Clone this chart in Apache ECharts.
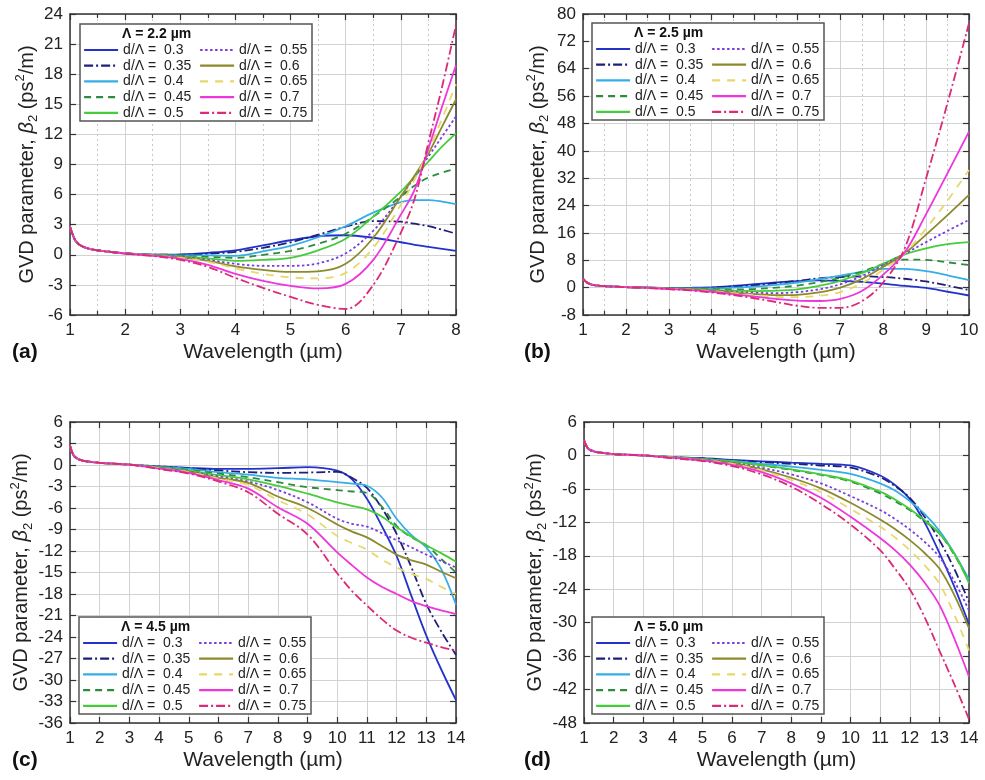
<!DOCTYPE html>
<html><head><meta charset="utf-8">
<script src="https://cdn.jsdelivr.net/npm/echarts@6/dist/echarts.min.js"></script>
<style>html,body{margin:0;padding:0;background:#fff}#c{width:985px;height:780px}</style>
</head><body><div id="c"></div>
<script>
// ---------- data: panel (a), Λ = 2.2 µm ----------
const lamA = [1, 1.1, 1.2, 1.35, 1.5, 2, 2.5, 3, 3.5, 4, 4.5, 5, 5.5, 6, 6.5, 7, 7.25, 7.5, 7.75, 8];
const A030 = [2.8,1.4,0.9,0.6,0.45,0.15,0.02, 0.05,0.2,0.45,0.95,1.45,1.85,1.95,1.7,1.25,1.0,0.8,0.6,0.4];
const A035 = [2.8,1.4,0.9,0.6,0.45,0.15,0.02, 0.0,0.1,0.3,0.7,1.25,2.0,2.8,3.35,3.3,3.1,2.85,2.5,2.1];
const A040 = [2.8,1.4,0.9,0.6,0.45,0.15,0.02, -0.05,-0.05,-0.1,0.35,0.9,1.75,2.85,4.2,5.25,5.45,5.45,5.3,5.05];
const A045 = [2.8,1.4,0.9,0.6,0.45,0.15,0.0, -0.1,-0.2,-0.3,0.0,0.4,1.1,2.1,3.8,5.8,6.9,7.7,8.2,8.6];
const A050 = [2.8,1.4,0.9,0.6,0.45,0.15,-0.02, -0.15,-0.35,-0.6,-0.5,-0.3,0.45,1.6,3.8,6.3,7.8,9.3,10.8,12.1];
const A055 = [2.8,1.4,0.9,0.6,0.45,0.15,-0.03, -0.2,-0.5,-0.9,-1.1,-1.1,-0.85,0.15,2.4,5.8,7.8,9.8,11.8,13.8];
const A060 = [2.8,1.4,0.9,0.6,0.45,0.15,-0.05, -0.25,-0.6,-1.15,-1.5,-1.7,-1.65,-0.9,1.7,5.8,7.9,10.1,12.8,15.5];
const A065 = [2.8,1.4,0.9,0.6,0.45,0.14,-0.08, -0.3,-0.7,-1.35,-1.9,-2.25,-2.35,-1.8,0.7,5.0,7.5,10.4,13.6,17.0];
const A070 = [2.8,1.4,0.9,0.6,0.45,0.13,-0.1, -0.4,-1.0,-1.9,-2.6,-3.1,-3.35,-2.9,-0.5,4.0,6.5,10.6,14.8,18.9];
const A075 = [2.8,1.4,0.9,0.6,0.45,0.12,-0.12, -0.5,-1.2,-2.3,-3.3,-4.2,-5.0,-5.4,-3.0,2.2,5.6,11.2,16.8,22.9];

// ---------- data: panel (b), Λ = 2.5 µm ----------
const lamB = [1, 1.1, 1.2, 1.35, 1.5, 2, 2.5, 3, 3.5, 4, 4.5, 5, 5.5, 6, 6.5, 7, 7.5, 8, 8.5, 9, 9.5, 10];
const B030 = [2.6,1.4,0.9,0.6,0.45,0.15,0.0, -0.1,-0.05,0.1,0.5,1.0,1.5,1.9,2.1,2.0,1.7,1.2,0.5,-0.1,-1.2,-2.3];
const B035 = [2.6,1.4,0.9,0.6,0.45,0.15,0.0, -0.1,-0.1,0.0,0.3,0.7,1.3,2.0,2.7,3.1,3.3,3.1,2.6,1.8,0.6,-0.7];
const B040 = [2.6,1.4,0.9,0.6,0.45,0.15,0.0, -0.15,-0.2,-0.2,0.0,0.3,0.8,1.5,2.5,3.5,4.6,5.5,5.5,4.8,3.6,2.2];
const B045 = [2.6,1.4,0.9,0.6,0.45,0.15,0.0, -0.2,-0.3,-0.45,-0.5,-0.4,0.0,0.6,1.6,2.9,4.7,6.8,8.2,8.1,7.4,6.6];
const B050 = [2.6,1.4,0.9,0.6,0.45,0.15,0.0, -0.25,-0.4,-0.65,-0.9,-1.0,-0.9,-0.5,0.5,2.0,4.2,7.0,9.7,11.5,12.7,13.3];
const B055 = [2.6,1.4,0.9,0.6,0.45,0.15,0.0, -0.3,-0.5,-0.8,-1.2,-1.5,-1.6,-1.3,-0.5,1.0,3.4,6.6,9.9,13.3,16.6,19.8];
const B060 = [2.6,1.4,0.9,0.6,0.45,0.15,0.0, -0.3,-0.55,-0.9,-1.4,-1.9,-2.2,-2.1,-1.4,0.0,2.5,6.1,10.0,15.5,21.2,27.1];
const B065 = [2.6,1.4,0.9,0.6,0.45,0.15,-0.05, -0.35,-0.6,-1.0,-1.6,-2.2,-2.7,-2.8,-2.4,-1.3,1.3,5.2,10.0,17.3,25.5,34.4];
const B070 = [2.6,1.4,0.9,0.6,0.45,0.15,-0.05, -0.4,-0.7,-1.2,-1.9,-2.6,-3.3,-3.8,-3.9,-3.3,-1.0,3.8,10.3,21.5,33.5,45.6];
const B075 = [2.6,1.4,0.9,0.6,0.45,0.15,-0.1, -0.45,-0.8,-1.4,-2.2,-3.1,-4.2,-5.3,-5.9,-5.9,-4.0,1.5,11.5,32.0,54.0,77.3];

// ---------- data: panel (c), Λ = 4.5 µm ----------
const lamC = [1, 1.1, 1.2, 1.35, 1.5, 2, 3, 4, 5, 6, 7, 8, 9, 10, 10.5, 11, 11.5, 12, 12.5, 13, 13.5, 14];
const C030 = [2.7,1.5,1.0,0.7,0.55,0.3,0.05, -0.2,-0.4,-0.55,-0.55,-0.45,-0.3,-0.8,-2.0,-4.7,-8.5,-12.7,-18.3,-23.8,-28.5,-32.8];
const C035 = [2.7,1.5,1.0,0.7,0.55,0.3,0.05, -0.2,-0.45,-0.75,-1.0,-1.1,-1.05,-0.95,-1.8,-3.2,-6.0,-9.6,-14.3,-19.4,-23.2,-26.5];
const C040 = [2.7,1.5,1.0,0.7,0.55,0.3,0.05, -0.25,-0.55,-1.0,-1.35,-1.8,-2.0,-2.4,-2.6,-2.9,-4.5,-7.5,-9.8,-11.5,-14.5,-19.5];
const C045 = [2.7,1.5,1.0,0.7,0.55,0.3,0.05, -0.3,-0.7,-1.2,-1.7,-2.4,-3.1,-3.5,-3.7,-3.9,-5.8,-8.5,-10.1,-11.2,-13.1,-15.0];
const C050 = [2.7,1.5,1.0,0.7,0.55,0.3,0.05, -0.35,-0.8,-1.4,-2.0,-2.9,-4.0,-5.2,-5.7,-6.2,-7.2,-8.7,-10.0,-11.2,-12.3,-13.5];
const C055 = [2.7,1.5,1.0,0.7,0.55,0.3,0.05, -0.4,-0.9,-1.6,-2.3,-3.5,-5.2,-7.5,-8.2,-8.6,-9.5,-10.5,-11.5,-12.5,-13.4,-14.3];
const C060 = [2.7,1.5,1.0,0.7,0.55,0.3,0.05, -0.4,-0.95,-1.8,-2.5,-4.4,-6.0,-8.3,-9.3,-10.1,-11.3,-12.5,-13.3,-13.9,-14.9,-15.8];
const C065 = [2.7,1.5,1.0,0.7,0.55,0.3,0.05, -0.45,-1.0,-1.9,-2.8,-4.9,-6.9,-9.9,-10.9,-11.8,-13.2,-14.3,-15.2,-15.9,-17.0,-18.0];
const C070 = [2.7,1.5,1.0,0.7,0.55,0.3,0.05, -0.5,-1.1,-2.1,-3.3,-5.9,-8.2,-12.2,-14.0,-15.7,-17.0,-18.0,-19.0,-19.7,-20.3,-20.8];
const C075 = [2.7,1.5,1.0,0.7,0.55,0.3,0.05, -0.55,-1.2,-2.3,-3.8,-6.8,-9.7,-15.1,-17.6,-19.6,-21.5,-23.1,-24.1,-24.8,-25.4,-25.9];

// ---------- data: panel (d), Λ = 5.0 µm ----------
const lamD = [1, 1.1, 1.2, 1.35, 1.5, 2, 3, 4, 5, 6, 7, 8, 9, 10, 11, 11.5, 12, 12.5, 13, 13.5, 14];
const D030 = [2.7,1.5,1.0,0.7,0.55,0.25,0.0, -0.3,-0.5,-0.8,-1.05,-1.3,-1.5,-1.8,-3.6,-5.3,-7.8,-12.0,-17.5,-23.5,-30.3];
const D035 = [2.7,1.5,1.0,0.7,0.55,0.25,0.0, -0.3,-0.55,-0.9,-1.2,-1.5,-1.8,-2.2,-3.9,-5.5,-7.6,-11.0,-15.2,-20.3,-26.3];
const D040 = [2.7,1.5,1.0,0.7,0.55,0.25,0.0, -0.35,-0.6,-1.0,-1.5,-2.0,-2.6,-3.3,-5.0,-6.3,-8.2,-10.5,-13.5,-17.5,-22.3];
const D045 = [2.7,1.5,1.0,0.7,0.55,0.25,0.0, -0.35,-0.65,-1.1,-1.8,-2.6,-3.5,-4.7,-6.8,-8.2,-9.8,-11.8,-14.0,-17.8,-22.6];
const D050 = [2.7,1.5,1.0,0.7,0.55,0.25,0.0, -0.35,-0.65,-1.1,-1.75,-2.5,-3.4,-4.5,-6.5,-7.9,-9.6,-11.6,-14.0,-17.6,-22.9];
const D055 = [2.7,1.5,1.0,0.7,0.55,0.25,0.0, -0.4,-0.75,-1.3,-2.2,-3.4,-5.0,-7.3,-9.8,-11.4,-13.3,-15.5,-18.2,-22.5,-27.8];
const D060 = [2.7,1.5,1.0,0.7,0.55,0.25,0.0, -0.4,-0.8,-1.4,-2.5,-4.0,-5.9,-8.5,-11.5,-13.2,-15.2,-17.5,-20.3,-25.0,-31.0];
const D065 = [2.7,1.5,1.0,0.7,0.55,0.25,0.0, -0.4,-0.85,-1.5,-2.7,-4.4,-6.6,-9.6,-12.8,-14.7,-17.0,-19.7,-23.0,-28.5,-35.0];
const D070 = [2.7,1.5,1.0,0.7,0.55,0.25,0.0, -0.45,-0.9,-1.7,-3.0,-5.0,-7.6,-11.0,-14.8,-17.0,-19.6,-22.8,-26.8,-32.8,-39.7];
const D075 = [2.7,1.5,1.0,0.7,0.55,0.25,0.0, -0.5,-1.0,-1.9,-3.4,-5.6,-8.7,-12.4,-17.0,-20.3,-24.0,-29.0,-35.0,-41.0,-47.3];

// ---------- labels ----------
const seriesNames = ['d/Λ =  0.3','d/Λ =  0.35','d/Λ =  0.4','d/Λ =  0.45','d/Λ =  0.5',
                     'd/Λ =  0.55','d/Λ =  0.6','d/Λ =  0.65','d/Λ =  0.7','d/Λ =  0.75'];
const lambdaTitles = ['Λ = 2.2 µm','Λ = 2.5 µm','Λ = 4.5 µm','Λ = 5.0 µm'];
const panelLabels = ['(a)','(b)','(c)','(d)'];
const xTitle = 'Wavelength (µm)';

// ---------- styles ----------
const colors = ['#2233cc','#1f1f78','#35aee6','#2e8b3e','#44cc3a','#7a3ee0','#8c8a2c','#e6d86a','#ee36dc','#dd2a78'];
const dashes = ['solid',[9,3,2,3],'solid',[7,5],'solid',[2.5,2.5],'solid',[8,7],'solid',[9,3,2,3]];
const FONT = 'Liberation Sans, Arial, Helvetica, sans-serif';

const panels = [
  {x: lamA, ys: [A030,A035,A040,A045,A050,A055,A060,A065,A070,A075], xmin:1, xmax:8, ymin:-6, ymax:24, yint:3, minor:true,
   grid:{left:70, top:14, width:386, height:301}, box:[80,24], ygap:28, label:[12,352]},
  {x: lamB, ys: [B030,B035,B040,B045,B050,B055,B060,B065,B070,B075], xmin:1, xmax:10, ymin:-8, ymax:80, yint:8, minor:true,
   grid:{left:583, top:14, width:386, height:301}, box:[592,23], ygap:32, label:[524,352]},
  {x: lamC, ys: [C030,C035,C040,C045,C050,C055,C060,C065,C070,C075], xmin:1, xmax:14, ymin:-36, ymax:6, yint:3, minor:false,
   grid:{left:70, top:422, width:386, height:301}, box:[79,617], ygap:27, label:[12,760]},
  {x: lamD, ys: [D030,D035,D040,D045,D050,D055,D060,D065,D070,D075], xmin:1, xmax:14, ymin:-48, ymax:6, yint:6, minor:false,
   grid:{left:584, top:422, width:385, height:301}, box:[592,617], ygap:32, label:[524,760]}
];

const grids = [], xAxes = [], yAxes = [], series = [], legends = [], graphics = [];
const axisLineStyle = {color:'#333', width:1.5};
const yName = '{t|GVD parameter, }{i|β}{s|2}{t| (ps}{p|2}{t|/m)}';
const yRich = {
  t:{fontSize:20, fontFamily:FONT, color:'#222', lineHeight:26, verticalAlign:'middle'},
  i:{fontSize:20, fontFamily:FONT, color:'#222', fontStyle:'italic', lineHeight:26, verticalAlign:'middle'},
  s:{fontSize:13, fontFamily:FONT, color:'#222', lineHeight:14, verticalAlign:'bottom'},
  p:{fontSize:13, fontFamily:FONT, color:'#222', lineHeight:14, verticalAlign:'top'}
};

panels.forEach((p, k) => {
  grids.push(Object.assign({containLabel:false}, p.grid));
  const xi = xAxes.length, yi = yAxes.length;
  xAxes.push({
    type:'value', gridIndex:k, min:p.xmin, max:p.xmax, interval:1, position:'bottom',
    name:xTitle, nameLocation:'middle', nameGap:27,
    nameTextStyle:{fontSize:21, fontFamily:FONT, color:'#222'},
    axisLine:{show:true, lineStyle:axisLineStyle, onZero:false},
    axisTick:{show:true, inside:true, length:6, lineStyle:{color:'#333', width:1.2}},
    minorTick:{show:p.minor, splitNumber:2, length:4, lineStyle:{color:'#333', width:1.2}},
    axisLabel:{fontSize:17, fontFamily:FONT, color:'#222', margin:7},
    splitLine:{show:true, lineStyle:{color:'#d2d2d2', width:1}},
    minorSplitLine:{show:p.minor, lineStyle:{color:'#c8c8c8', width:1, type:[2,3]}}
  });
  xAxes.push({
    type:'value', gridIndex:k, min:p.xmin, max:p.xmax, interval:1, position:'top',
    axisLine:{show:true, lineStyle:axisLineStyle, onZero:false},
    axisTick:{show:true, inside:true, length:6, lineStyle:{color:'#333', width:1.2}},
    minorTick:{show:p.minor, splitNumber:2, length:4, lineStyle:{color:'#333', width:1.2}},
    axisLabel:{show:false}, splitLine:{show:false}
  });
  yAxes.push({
    type:'value', gridIndex:k, min:p.ymin, max:p.ymax, interval:p.yint, position:'left',
    name:yName, nameLocation:'middle', nameGap:p.ygap, nameRotate:90,
    nameTextStyle:{fontSize:20, fontFamily:FONT, color:'#222', rich:yRich},
    axisLine:{show:true, lineStyle:axisLineStyle, onZero:false},
    axisTick:{show:true, inside:true, length:6, lineStyle:{color:'#333', width:1.2}},
    axisLabel:{fontSize:17, fontFamily:FONT, color:'#222', margin:7},
    splitLine:{show:true, lineStyle:{color:'#d2d2d2', width:1}}
  });
  yAxes.push({
    type:'value', gridIndex:k, min:p.ymin, max:p.ymax, interval:p.yint, position:'right',
    axisLine:{show:true, lineStyle:axisLineStyle, onZero:false},
    axisTick:{show:true, inside:true, length:6, lineStyle:{color:'#333', width:1.2}},
    axisLabel:{show:false}, splitLine:{show:false}
  });
  p.ys.forEach((vals, j) => {
    series.push({
      type:'line', name:seriesNames[j], xAxisIndex:xi, yAxisIndex:yi,
      data: p.x.map((xv, n) => [xv, vals[n]]),
      showSymbol:false, symbol:'none', smooth:0.35, z:2, silent:true,
      lineStyle:{color:colors[j], width:1.8, type:dashes[j]},
      itemStyle:{color:colors[j]}
    });
  });
  const bx = p.box[0], by = p.box[1];
  const legBase = {
    orient:'vertical', top:by+19, itemWidth:34, itemHeight:14, itemGap:1.7, padding:0,
    selectedMode:false, z:6,
    itemStyle:{color:'rgba(0,0,0,0)', borderColor:'rgba(0,0,0,0)', borderWidth:0, opacity:0},
    lineStyle:{width:2.2},
    textStyle:{fontSize:14, fontFamily:FONT, color:'#222', lineHeight:14}
  };
  legends.push(Object.assign({}, legBase, {left:bx+3, data:seriesNames.slice(0,5)}));
  legends.push(Object.assign({}, legBase, {left:bx+119, data:seriesNames.slice(5)}));
  graphics.push({type:'rect', z:3, shape:{x:bx, y:by, width:232, height:97},
                 style:{fill:'#fff', stroke:'#555', lineWidth:1.5}});
  graphics.push({type:'text', z:7, x:bx+42, y:by+10,
                 style:{text:lambdaTitles[k], font:'bold 14px '+FONT, fill:'#111', verticalAlign:'middle'}});
  graphics.push({type:'text', z:7, x:p.label[0], y:p.label[1],
                 style:{text:panelLabels[k], font:'bold 21px '+FONT, fill:'#111', verticalAlign:'middle'}});
});

const chart = echarts.init(document.getElementById('c'), null, {renderer:'canvas'});
chart.setOption({
  backgroundColor:'#fff', animation:false,
  grid:grids, xAxis:xAxes, yAxis:yAxes, series:series, legend:legends, graphic:graphics
});
</script></body></html>
